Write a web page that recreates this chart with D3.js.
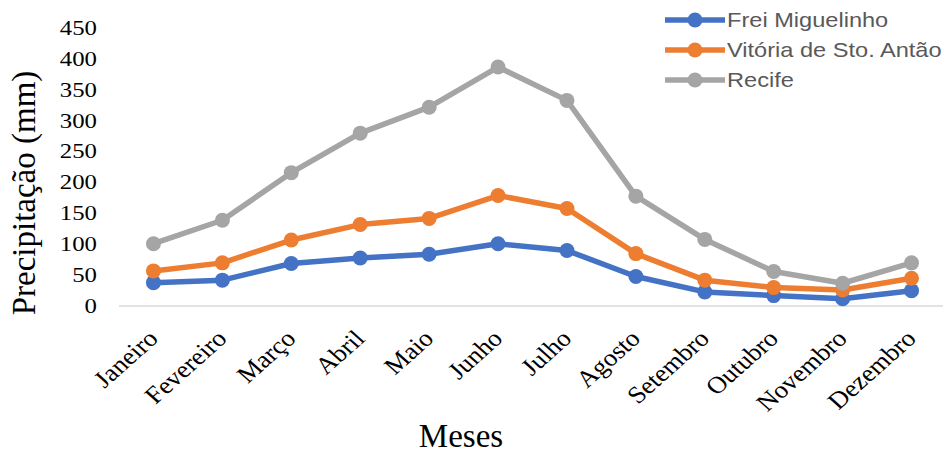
<!DOCTYPE html>
<html>
<head>
<meta charset="utf-8">
<script src="https://cdn.jsdelivr.net/npm/d3@7"></script>
<style>
  html, body { margin: 0; padding: 0; background: #fff; }
  svg { display: block; }
</style>
</head>
<body>
<svg id="chart" width="943" height="453"></svg>
<script>
// Monthly precipitation (mm) for three stations
const months = ["Janeiro", "Fevereiro", "Março", "Abril", "Maio", "Junho",
                "Julho", "Agosto", "Setembro", "Outubro", "Novembro", "Dezembro"];
const freiMiguelinho = [37, 41, 68, 77, 83, 100, 89, 47, 22, 16, 11, 24];
const vitoriaStoAntao = [56, 69, 106, 131, 141, 178, 157, 84, 41, 29, 25, 44];
const recife = [100, 138, 215, 279, 321, 386, 332, 177, 107, 55, 36, 69];
const yTicks = [0, 50, 100, 150, 200, 250, 300, 350, 400, 450];

const series = [
  { name: "Frei Miguelinho", values: freiMiguelinho, color: "#4472C4" },
  { name: "Vitória de Sto. Antão", values: vitoriaStoAntao, color: "#ED7D31" },
  { name: "Recife", values: recife, color: "#A5A5A5" }
];

const serif = "'Liberation Serif', 'Times New Roman', serif";
const sans = "'Liberation Sans', Arial, sans-serif";
const stretch = 1.18; // text is drawn slightly wide

const svg = d3.select("#chart");

const x = d3.scalePoint().domain(months).range([119, 946]).padding(0.5);
const y = d3.scaleLinear().domain([0, 450]).range([305.5, 27.5]);

// baseline
svg.append("line")
  .attr("x1", 119).attr("x2", 943)
  .attr("y1", y(0) + 0.5).attr("y2", y(0) + 0.5)
  .attr("stroke", "#D9D9D9").attr("stroke-width", 1.5);

// y tick labels
svg.append("g").selectAll("text").data(yTicks).join("text")
  .attr("transform", d => `translate(97,${y(d)}) scale(${stretch},1)`)
  .attr("dy", "0.35em")
  .attr("text-anchor", "end")
  .attr("font-family", serif)
  .attr("font-size", 21)
  .attr("fill", "#000")
  .text(d => d);

// x tick labels, rotated
svg.append("g").selectAll("text").data(months).join("text")
  .attr("transform", d => `translate(${x(d) + 6},340) scale(1.12,1) rotate(-45)`)
  .attr("text-anchor", "end")
  .attr("font-family", serif)
  .attr("font-size", 24)
  .attr("fill", "#000")
  .text(d => d);

// axis titles
svg.append("text")
  .attr("transform", `translate(35,193) rotate(-90)`)
  .attr("text-anchor", "middle")
  .attr("font-family", serif)
  .attr("font-size", 33)
  .attr("fill", "#000")
  .text("Precipitação (mm)");

svg.append("text")
  .attr("x", 461).attr("y", 447)
  .attr("text-anchor", "middle")
  .attr("font-family", serif)
  .attr("font-size", 33)
  .attr("fill", "#000")
  .text("Meses");

// lines and markers
const line = d3.line()
  .x((d, i) => x(months[i]))
  .y(d => y(d));

const g = svg.append("g");
series.forEach(s => {
  g.append("path")
    .datum(s.values)
    .attr("d", line)
    .attr("fill", "none")
    .attr("stroke", s.color)
    .attr("stroke-width", 5.5)
    .attr("stroke-linejoin", "round");
  g.append("g").selectAll("circle").data(s.values).join("circle")
    .attr("cx", (d, i) => x(months[i]))
    .attr("cy", d => y(d))
    .attr("r", 7.5)
    .attr("fill", s.color);
});

// legend
const legend = svg.append("g");
series.forEach((s, i) => {
  const ly = 20 + i * 30;
  legend.append("line")
    .attr("x1", 665).attr("x2", 725)
    .attr("y1", ly).attr("y2", ly)
    .attr("stroke", s.color).attr("stroke-width", 5.5);
  legend.append("circle")
    .attr("cx", 695).attr("cy", ly).attr("r", 7.5)
    .attr("fill", s.color);
  legend.append("text")
    .attr("transform", `translate(727,${ly}) scale(${stretch},1)`)
    .attr("dy", "0.35em")
    .attr("font-family", sans)
    .attr("font-size", 20)
    .attr("fill", "#595959")
    .text(s.name);
});
</script>
</body>
</html>
